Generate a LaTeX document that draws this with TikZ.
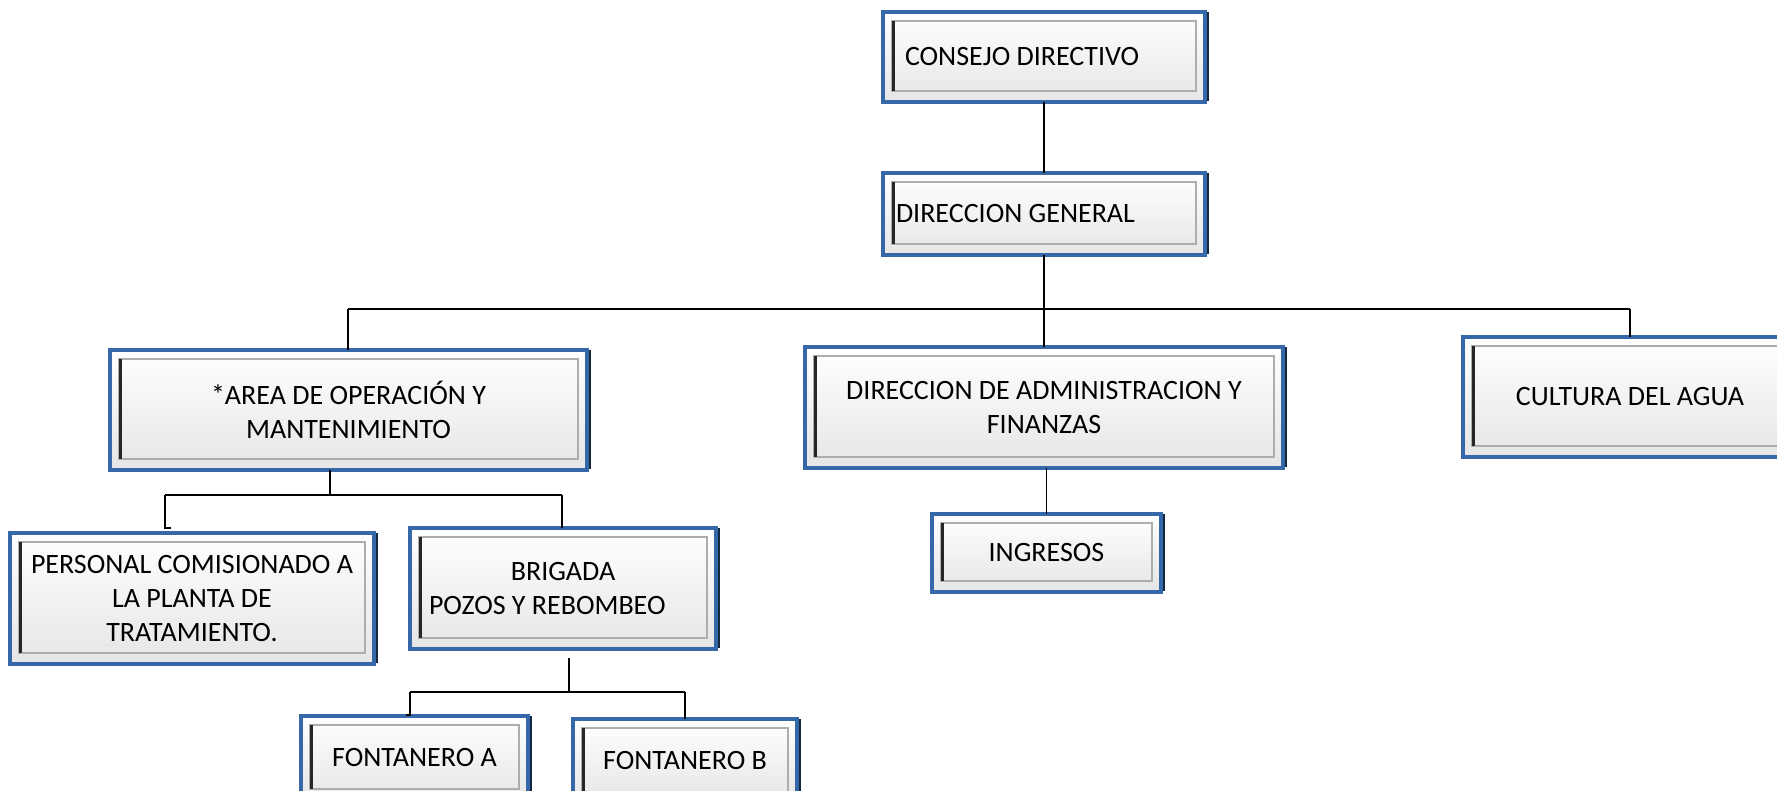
\documentclass[tikz,border=0pt]{standalone}
\usepackage{fontspec}
\setmainfont{Carlito}
\definecolor{boxblue}{HTML}{3468A8}
\definecolor{boxnavy}{HTML}{14283F}
\tikzset{
  orgbox/.style={draw=boxblue, line width=3.5, top color=white, bottom color=black!10,
    outer sep=0pt, anchor=north west, font=\fontsize{28}{34}\selectfont, align=flush center},
  conn/.style={draw=black, line width=1.3}
}
\newcommand\bevel[1]{%
  \draw[black!32, line width=2] ([shift={(9,9)}]#1.north west) rectangle ([shift={(-9,-11)}]#1.south east);
  \draw[black!85, line width=3] ([shift={(10,9)}]#1.north west) -- ([shift={(10,-11)}]#1.south west);
  \draw[boxnavy, line width=2] ([shift={(2.5,0)}]#1.north east) -- ([shift={(2.5,-1)}]#1.south east);
}
\begin{document}
\begin{tikzpicture}[x=1pt,y=-1pt]
\useasboundingbox (0,0) rectangle (1777,791);
\fill[white] (0,0) rectangle (1777,791);

\node[orgbox, minimum width=322, minimum height=90, text width=278, inner xsep=22, align=flush left] (consejo) at (883,12) {CONSEJO DIRECTIVO};
\node[orgbox, minimum width=322, minimum height=82, text width=296, inner xsep=13, align=flush left] (dg) at (883,173) {DIRECCION GENERAL};
\node[orgbox, minimum width=477, minimum height=120] (area) at (110,350) {*AREA DE OPERACIÓN Y\\MANTENIMIENTO};
\node[orgbox, minimum width=478, minimum height=121] (daf) at (805,347) {DIRECCION DE ADMINISTRACION Y\\FINANZAS};
\node[orgbox, minimum width=334, minimum height=120] (cultura) at (1463,337) {CULTURA DEL AGUA};
\node[orgbox, minimum width=229, minimum height=78] (ingresos) at (932,514) {INGRESOS};
\node[orgbox, minimum width=364, minimum height=131] (personal) at (10,533) {PERSONAL COMISIONADO A\\LA PLANTA DE\\TRATAMIENTO.};
\node[orgbox, minimum width=306, minimum height=121, text width=268, inner xsep=19, align=flush left] (brigada) at (410,528) {\makebox[268pt][c]{BRIGADA}\\POZOS Y REBOMBEO};
\node[orgbox, minimum width=227, minimum height=84] (fa) at (301,716) {FONTANERO A};
\node[orgbox, minimum width=224, minimum height=84] (fb) at (573,719) {FONTANERO B};

\foreach \n in {consejo,dg,area,daf,cultura,ingresos,personal,brigada,fa,fb} {\bevel{\n}}

\coordinate (busL) at (348,309);
\coordinate (busR) at (1630,309);
\coordinate (a1) at (330,495);
\coordinate (pL) at (165,495);
\coordinate (pR) at (562,495);
\coordinate (pTick) at (171,528);
\coordinate (b0) at (569,658);
\coordinate (b1) at (569,692);
\coordinate (fL) at (410,692);
\coordinate (fR) at (685,692);
\coordinate (fTick) at (406,715);

\draw[conn] (consejo.south) -- (dg.north);
\draw[conn] (dg.south) -- (daf.north);
\draw[conn] (busL) -- (busR);
\draw[conn] (busL) -- (busL |- area.north);
\draw[conn] (busR) -- (cultura.north);
\draw[conn] (ingresos.north |- daf.south) -- (ingresos.north);
\draw[conn] (a1 |- area.south) -- (a1);
\draw[conn] (pL) -- (pR);
\draw[conn] (pL) |- (pTick);
\draw[conn] (pR) -- (pR |- brigada.north);
\draw[conn] (b0) -- (b1);
\draw[conn] (fL) -- (fR);
\draw[conn] (fL) |- (fTick);
\draw[conn] (fR) -- (fR |- fb.north);
\end{tikzpicture}
\end{document}
